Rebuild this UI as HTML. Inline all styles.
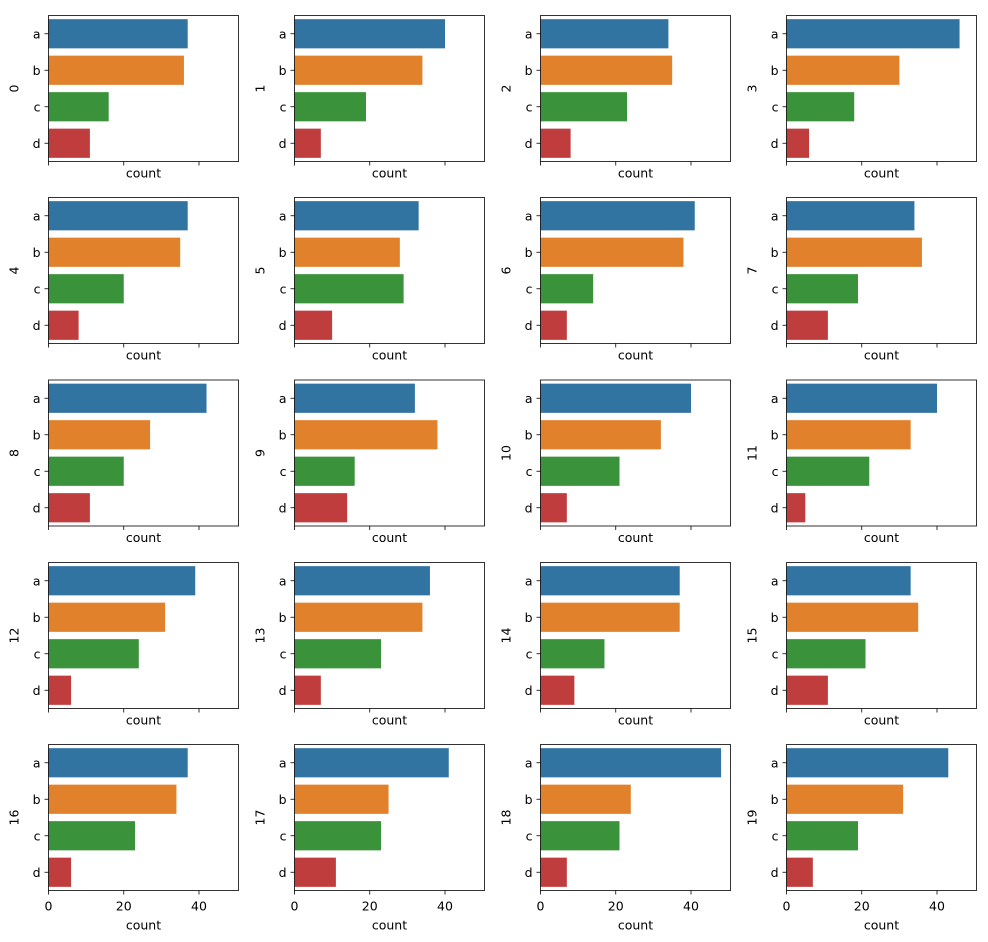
<!DOCTYPE html>
<html><head><meta charset="utf-8"><style>body{margin:0;background:#fff}svg{display:block;font-family:"DejaVu Sans","Liberation Sans",sans-serif}</style></head>
<body>
<svg id="fig" width="988" height="942" xmlns="http://www.w3.org/2000/svg"></svg>
<script>
const categories=['a','b','c','d'];
const colors=['#3274a1','#e1812c','#3a923a','#c03d3e'];
const tickValues=[0,20,40];
const xMax=50.5;
const v0=[37,36,16,11],v1=[40,34,19,7],v2=[34,35,23,8],v3=[46,30,18,6],
v4=[37,35,20,8],v5=[33,28,29,10],v6=[41,38,14,7],v7=[34,36,19,11],
v8=[42,27,20,11],v9=[32,38,16,14],v10=[40,32,21,7],v11=[40,33,22,5],
v12=[39,31,24,6],v13=[36,34,23,7],v14=[37,37,17,9],v15=[33,35,21,11],
v16=[37,34,23,6],v17=[41,25,23,11],v18=[48,24,21,7],v19=[43,31,19,7];
const series=[v0,v1,v2,v3,v4,v5,v6,v7,v8,v9,v10,v11,v12,v13,v14,v15,v16,v17,v18,v19];
const svg=document.getElementById('fig');const NS='http://www.w3.org/2000/svg';
function mk(t,a,p){const e=document.createElementNS(NS,t);for(const k in a)e.setAttribute(k,a[k]);(p||svg).appendChild(e);return e;}
const colX=[48.5,294.5,540.5,786.5],rowY=[15.5,197.5,380,562.5,744.5],W=190,H=146;
series.forEach((vals,i)=>{
 const r=Math.floor(i/4),c=i%4,x0=colX[c],y0=rowY[r];
 const g=mk('g',{});
 
 
 const xs=v=>x0+v/xMax*W;const band=H/4;
 vals.forEach((v,j)=>{
  const b=mk('rect',{x:x0,y:y0+band*j+band*0.1,width:xs(v)-x0,height:band*0.8,fill:colors[j]},g);
  
  
  mk('line',{x1:x0,x2:x0-4,y1:y0+band*(j+0.5),y2:y0+band*(j+0.5),stroke:'#000','stroke-width':0.8},g);
  const t=mk('text',{x:x0-8,y:y0+band*(j+0.5)+4.5,'text-anchor':'end','font-size':12.5},g);t.textContent=categories[j];
  
  
 });
 mk('rect',{x:x0,y:y0,width:W,height:H,fill:'none',stroke:'#000','stroke-width':0.8},g);
 tickValues.forEach(tv=>{
  mk('line',{x1:xs(tv),x2:xs(tv),y1:y0+H,y2:y0+H+4,stroke:'#000','stroke-width':0.8},g);
  if(r===4){const t=mk('text',{x:xs(tv),y:y0+H+20,'text-anchor':'middle','font-size':12.5},g);t.textContent=tv;
  
  }
 });
 const xl=mk('text',{x:x0+W/2,y:y0+H+(r===4?39:16),'text-anchor':'middle','font-size':12.5},g);xl.textContent='count';
 
 
 const yx=x0-30,yy=y0+H/2;
 const yl=mk('text',{x:yx,y:yy,'text-anchor':'middle','font-size':12.5,transform:'rotate(-90 '+yx+' '+yy+')'},g);yl.textContent=i;
 
 
});
</script>
</body></html>
